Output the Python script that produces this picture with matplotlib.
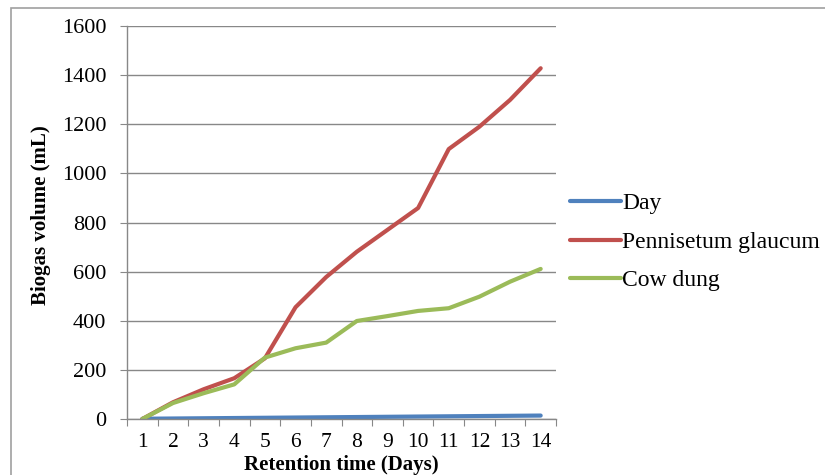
import numpy as np
import matplotlib.pyplot as plt
from matplotlib.patches import Rectangle

days = np.arange(1, 15)
day_series = list(range(1, 15))
pennisetum = [0, 68, 121, 166, 247, 455, 578, 681, 770, 859, 1099, 1190, 1299, 1428]
cow_dung = [0, 65, 105, 141, 250, 288, 311, 399, 419, 440, 451, 498, 559, 611]

plt.rcParams['font.family'] = ['Liberation Serif', 'DejaVu Serif']

fig = plt.figure(figsize=(8.25, 4.75), dpi=100)
W, H = 825, 475
ax = fig.add_axes([127 / W, 1 - 419 / H, (556 - 127) / W, (419 - 26) / H])

# outer chart frame, runs off the right and bottom edges
fig.patches.append(Rectangle((11 / W, -0.1), 1.2, 1 - 8 / H + 0.1, transform=fig.transFigure,
                             fill=False, edgecolor='#a0a0a0', lw=1.2, zorder=0))

ax.plot(days, day_series, color='#4F81BD', lw=3, solid_capstyle='round', label='Day')
ax.plot(days, pennisetum, color='#C0504D', lw=3, solid_capstyle='round', label='Pennisetum glaucum')
ax.plot(days, cow_dung, color='#9BBB59', lw=3, solid_capstyle='round', label='Cow dung')

ax.set_xlim(0.5, 14.5)
ax.set_ylim(0, 1600)
ax.set_yticks(np.arange(0, 1601, 200))
ax.set_xticks(np.arange(0.5, 15, 1))
ax.set_xticklabels([])
ax.set_xticks(days, minor=True)
ax.set_xticklabels([str(d) for d in days], minor=True)
ax.tick_params(axis='x', which='minor', length=0, labelsize=15.5, pad=10)
ax.tick_params(axis='x', which='major', length=5, color='#888888', direction='out')
ax.tick_params(axis='y', length=5, color='#888888', labelsize=16, pad=10)

ax.grid(axis='y', color='#888888', lw=1)
ax.set_axisbelow(True)
for s in ['top', 'right']:
    ax.spines[s].set_visible(False)
for s in ['left', 'bottom']:
    ax.spines[s].set_color('#888888')
    ax.spines[s].set_linewidth(1)
ax.spines['bottom'].set_zorder(3)

ax.set_xlabel('Retention time (Days)', fontsize=15, fontweight='bold', labelpad=2)
ax.set_ylabel('Biogas volume (mL)', fontsize=15, fontweight='bold')
ax.yaxis.set_label_coords(-0.178, 0.52)

ax.legend(loc='center left', bbox_to_anchor=(1.0, 0.45), frameon=False, fontsize=17,
          handlelength=2.15, handletextpad=0.05, labelspacing=0.72, borderaxespad=0.2)

fig.savefig('out.png', dpi=100)
